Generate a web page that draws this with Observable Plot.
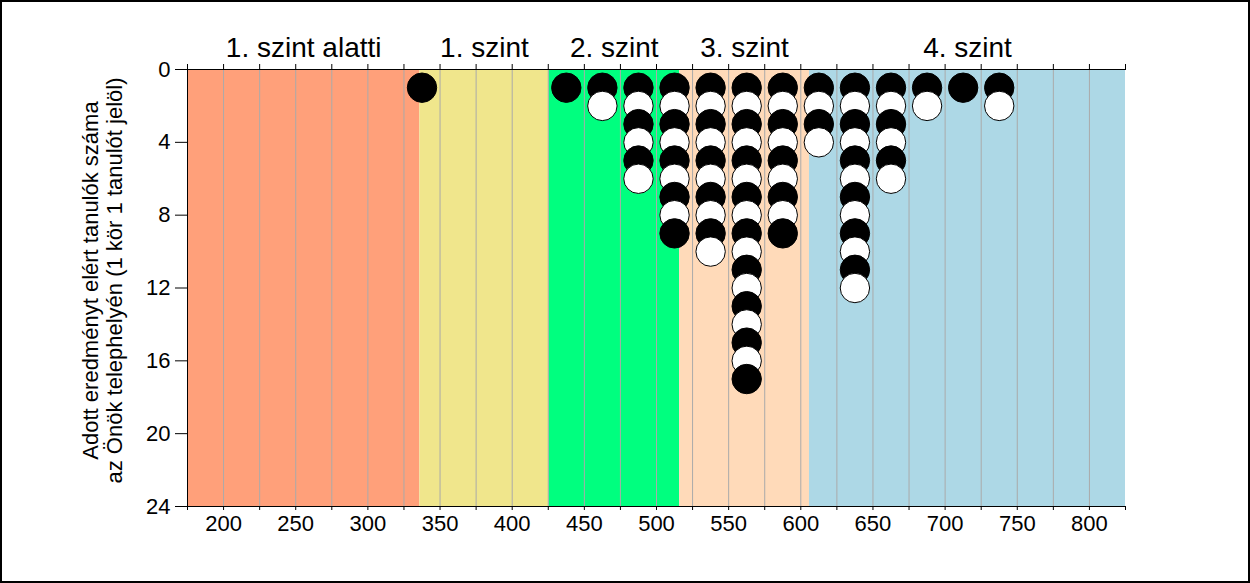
<!DOCTYPE html>
<html>
<head>
<meta charset="utf-8">
<script src="https://cdn.jsdelivr.net/npm/d3@7"></script>
<script src="https://cdn.jsdelivr.net/npm/@observablehq/plot@0.6"></script>
<style>
  html, body { margin: 0; padding: 0; background: white; }
  #chart { width: 1246px; height: 579px; border: 2px solid black; overflow: hidden; }
  #chart svg { display: block; }
</style>
</head>
<body>
<div id="chart"></div>
<script>
// Level bands (score ranges) and their labels/colours
const bandLabels = ["1. szint alatti", "1. szint", "2. szint", "3. szint", "4. szint"];
const bandStarts = [175, 336, 425.5, 516, 606];
const bandEnds   = [336, 425.5, 516, 606, 825];
const bandColors = ["#FFA07A", "#F0E68C", "#00FF7F", "#FFDAB9", "#ADD8E6"];

// Students per score column (one circle = one student)
const scores = [337.5, 437.5, 462.5, 487.5, 512.5, 537.5, 562.5, 587.5, 612.5, 637.5, 662.5, 687.5, 712.5, 737.5];
const counts = [1, 1, 2, 6, 9, 10, 17, 9, 4, 12, 6, 2, 1, 2];

// Axis ticks
const xTicks = d3.range(175, 826, 25);
const xGrid = d3.range(200, 801, 25);
const yTicks = [0, 4, 8, 12, 16, 20, 24];
const yTitle = "Adott eredményt elért tanulók száma\naz Önök telephelyén (1 kör 1 tanulót jelöl)";

const bands = bandLabels.map((label, i) => ({label, x1: bandStarts[i], x2: bandEnds[i], color: bandColors[i]}));
const dots = scores.flatMap((s, i) => d3.range(1, counts[i] + 1).map(k => ({score: s, k, fill: k % 2 ? "black" : "white"})));

const plot = Plot.plot({
  width: 1246,
  height: 579,
  marginLeft: 185,
  marginRight: 123,
  marginTop: 67,
  marginBottom: 75,
  x: {domain: [175, 825]},
  y: {domain: [0, 24], reverse: true},
  style: {fontFamily: "'Liberation Sans', Arial, sans-serif", color: "black", background: "white", overflow: "visible"},
  marks: [
    Plot.rect(bands, {x1: "x1", x2: "x2", y1: 0, y2: 24, fill: "color"}),
    Plot.ruleX(xGrid, {stroke: "#aaaaaa", strokeWidth: 1}),
    Plot.dot(dots, {x: "score", y: "k", r: 14.7, fill: "fill", stroke: "black", strokeWidth: 1}),
    Plot.ruleY([0, 24], {stroke: "black", strokeWidth: 1}),
    Plot.ruleX([175], {stroke: "black", strokeWidth: 1}),
    Plot.axisX({anchor: "bottom", ticks: xTicks, tickSize: 4, tickPadding: 5, fontSize: 22,
      tickFormat: d => d % 50 === 0 ? String(d) : "", label: null}),
    Plot.axisX({anchor: "top", ticks: xTicks, tickSize: 6, tickFormat: () => "", label: null}),
    Plot.axisY({ticks: yTicks, tickSize: 12, tickPadding: 5, fontSize: 22, label: null}),
    Plot.text(bands, {x: d => (d.x1 + d.x2) / 2, y: 0, text: "label", dy: -13, lineAnchor: "bottom", fontSize: 28, fill: "black"}),
    Plot.text([yTitle], {frameAnchor: "left", rotate: -90, dx: -85.5, dy: -7.5, fontSize: 22, lineHeight: 1.1,
      textAnchor: "middle", lineAnchor: "middle", fill: "black"})
  ]
});
document.getElementById("chart").appendChild(plot);
</script>
</body>
</html>
